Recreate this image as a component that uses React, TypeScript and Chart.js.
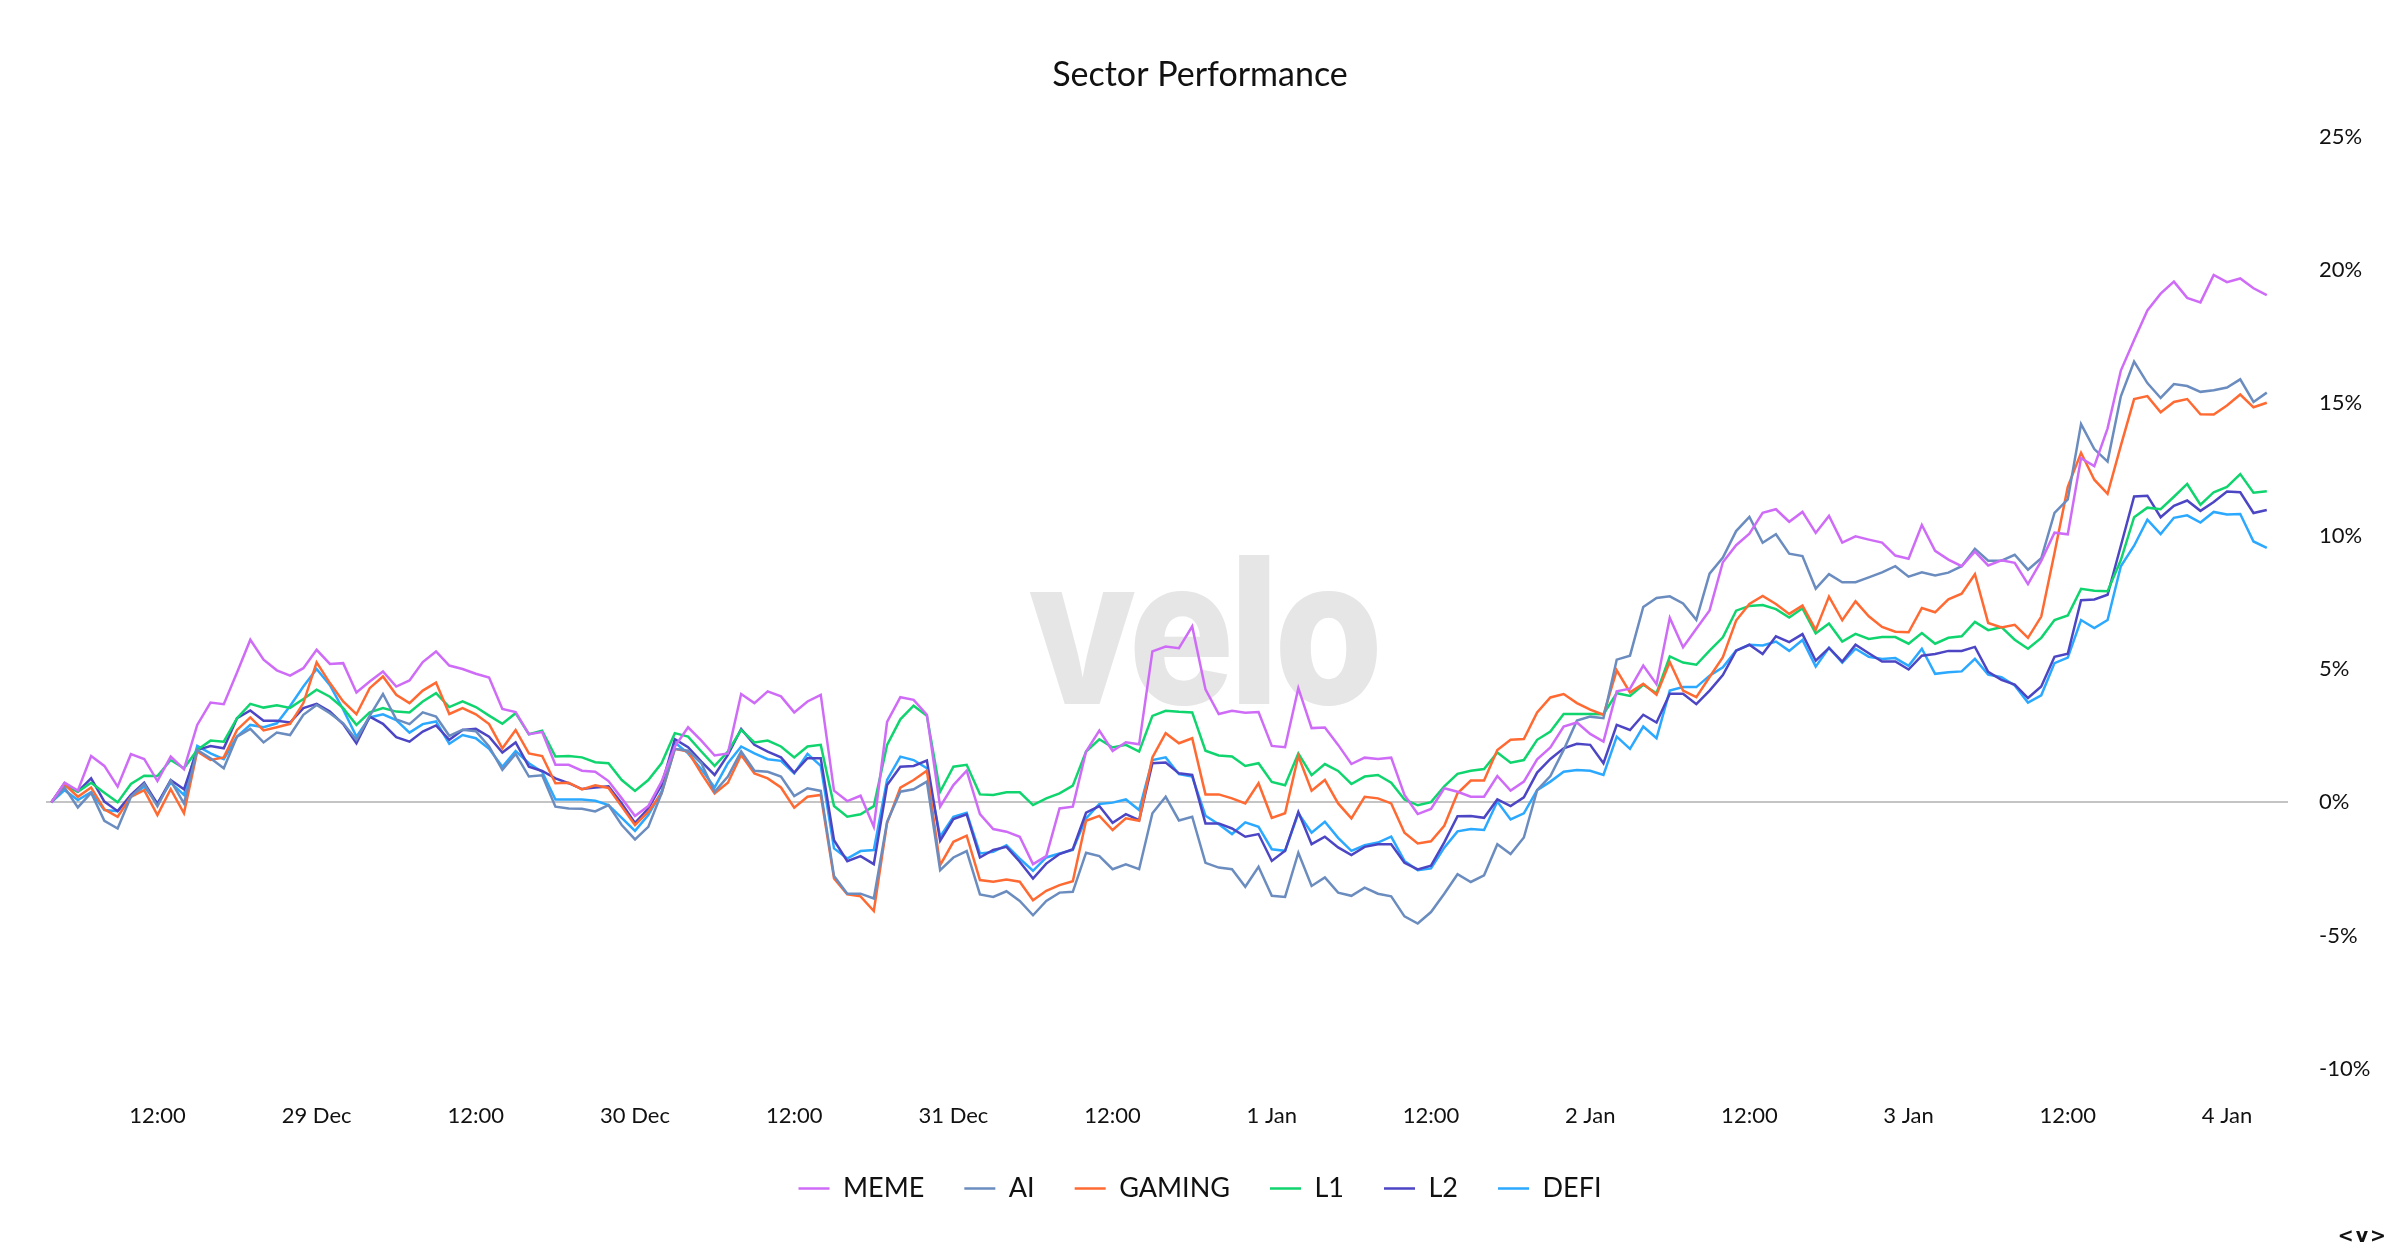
import React, { useEffect, useRef } from "react";
import { Chart, registerables } from "chart.js";

Chart.register(...registerables);

// first point: 28 Dec 04:00 (hourly data, 168 points)
const START = Date.UTC(2024, 11, 28, 4);
const MONTHS = ["Jan", "Feb", "Mar", "Apr", "May", "Jun", "Jul", "Aug", "Sep", "Oct", "Nov", "Dec"];
const hours = Array.from({ length: 168 }, (_, i) => i);
const tickHours = [8, 20, 32, 44, 56, 68, 80, 92, 104, 116, 128, 140, 152, 164];
const yTicks = [-10, -5, 0, 5, 10, 15, 20, 25];

const seriesNames = ["MEME", "AI", "GAMING", "L1", "L2", "DEFI"];
const seriesColors = ["#cf6cf7", "#6b8cbf", "#ff6a33", "#10d46e", "#4c46c4", "#2ba8ff"];

const meme = [
  0, 0.74, 0.44, 1.74, 1.37, 0.59, 1.81, 1.63, 0.8, 1.72, 1.25, 2.91, 3.75, 3.69, 4.88, 6.11, 5.36, 4.96, 4.76, 5.04, 5.73,
  5.2, 5.23, 4.13, 4.54, 4.92, 4.35, 4.58, 5.27, 5.67, 5.14, 5.01, 4.83, 4.69, 3.51, 3.39, 2.56, 2.64, 1.41, 1.41, 1.19, 1.15,
  0.8, 0.15, -0.51, -0.14, 0.78, 2.1, 2.82, 2.32, 1.76, 1.84, 4.07, 3.73, 4.17, 3.98, 3.38, 3.79, 4.04, 0.44, 0.05, 0.25, -0.92,
  3.02, 3.95, 3.85, 3.29, -0.16, 0.65, 1.19, -0.44, -1.0, -1.1, -1.29, -2.32, -2.02, -0.23, -0.16, 1.91, 2.7, 1.93, 2.26, 2.18, 5.67,
  5.85, 5.79, 6.61, 4.25, 3.32, 3.44, 3.37, 3.39, 2.12, 2.07, 4.29, 2.79, 2.81, 2.16, 1.44, 1.68, 1.63, 1.68, 0.28, -0.44, -0.25,
  0.53, 0.4, 0.21, 0.21, 0.99, 0.44, 0.78, 1.62, 2.06, 2.85, 3.0, 2.57, 2.28, 4.17, 4.27, 5.14, 4.44, 6.93, 5.83, 6.52, 7.21,
  9.02, 9.66, 10.09, 10.88, 11.01, 10.54, 10.91, 10.12, 10.76, 9.76, 9.99, 9.87, 9.76, 9.27, 9.15, 10.42, 9.45, 9.12, 8.87, 9.42, 8.9,
  9.09, 9.0, 8.2, 9.07, 10.13, 10.07, 12.93, 12.63, 14.05, 16.22, 17.37, 18.48, 19.11, 19.56, 18.95, 18.78, 19.81, 19.54, 19.68, 19.31, 19.05,
];

const ai = [
  0, 0.56, -0.19, 0.36, -0.69, -0.98, 0.21, 0.69, -0.14, 0.82, -0.04, 1.97, 1.66, 1.28, 2.47, 2.76, 2.25, 2.62, 2.53, 3.29, 3.66,
  3.35, 2.97, 2.35, 3.25, 4.07, 3.12, 2.94, 3.38, 3.22, 2.5, 2.73, 2.67, 2.1, 1.22, 1.82, 0.97, 1.02, -0.16, -0.23, -0.24, -0.34,
  -0.1, -0.85, -1.39, -0.92, 0.34, 2.01, 1.94, 1.47, 0.4, 0.97, 1.91, 1.19, 1.15, 0.97, 0.24, 0.53, 0.43, -2.77, -3.43, -3.43, -3.61,
  -0.73, 0.4, 0.49, 0.78, -2.55, -2.07, -1.83, -3.46, -3.55, -3.34, -3.7, -4.24, -3.7, -3.39, -3.36, -1.89, -2.02, -2.51, -2.33, -2.51, -0.41,
  0.21, -0.68, -0.54, -2.27, -2.45, -2.51, -3.17, -2.42, -3.51, -3.55, -1.89, -3.14, -2.82, -3.39, -3.51, -3.2, -3.43, -3.53, -4.28, -4.55, -4.12,
  -3.43, -2.7, -2.99, -2.74, -1.57, -1.94, -1.32, 0.46, 0.99, 1.97, 3.07, 3.22, 3.16, 5.36, 5.51, 7.34, 7.68, 7.74, 7.47, 6.86, 8.59,
  9.2, 10.19, 10.72, 9.75, 10.07, 9.34, 9.25, 8.03, 8.57, 8.27, 8.27, 8.45, 8.64, 8.87, 8.48, 8.64, 8.52, 8.63, 8.87, 9.52, 9.08,
  9.08, 9.3, 8.74, 9.17, 10.87, 11.38, 14.21, 13.27, 12.8, 15.25, 16.56, 15.75, 15.19, 15.71, 15.64, 15.42, 15.48, 15.58, 15.89, 15.04, 15.39,
];

const gaming = [
  0, 0.68, 0.21, 0.56, -0.26, -0.54, 0.21, 0.46, -0.48, 0.5, -0.41, 1.91, 1.59, 1.69, 2.72, 3.19, 2.7, 2.82, 2.95, 3.73, 5.26,
  4.48, 3.79, 3.31, 4.29, 4.73, 4.04, 3.73, 4.2, 4.5, 3.32, 3.54, 3.31, 2.94, 2.03, 2.72, 1.84, 1.74, 0.72, 0.74, 0.49, 0.64,
  0.54, -0.16, -0.85, -0.35, 0.34, 2.01, 1.91, 1.09, 0.34, 0.74, 1.78, 1.09, 0.9, 0.56, -0.2, 0.21, 0.28, -2.86, -3.45, -3.53, -4.08,
  -0.78, 0.55, 0.84, 1.19, -2.36, -1.48, -1.25, -2.92, -2.98, -2.9, -2.98, -3.68, -3.32, -3.11, -2.96, -0.69, -0.51, -1.04, -0.6, -0.69, 1.69,
  2.6, 2.22, 2.41, 0.3, 0.3, 0.15, -0.04, 0.72, -0.58, -0.41, 1.74, 0.44, 0.84, -0.04, -0.6, 0.21, 0.15, -0.04, -1.14, -1.54, -1.46,
  -0.88, 0.34, 0.82, 0.82, 1.97, 2.35, 2.38, 3.38, 3.94, 4.07, 3.73, 3.48, 3.29, 4.96, 4.13, 4.45, 4.04, 5.27, 4.2, 3.95, 4.71,
  5.45, 6.83, 7.45, 7.75, 7.45, 7.08, 7.39, 6.48, 7.73, 6.84, 7.55, 6.99, 6.59, 6.41, 6.39, 7.3, 7.14, 7.63, 7.84, 8.57, 6.74,
  6.57, 6.67, 6.18, 6.98, 9.37, 11.85, 13.13, 12.12, 11.59, 13.4, 15.15, 15.26, 14.65, 15.04, 15.15, 14.58, 14.57, 14.91, 15.32, 14.84, 15.01,
];

const l1 = [
  0, 0.65, 0.4, 0.74, 0.36, 0, 0.69, 1.0, 0.99, 1.59, 1.28, 1.97, 2.32, 2.28, 3.16, 3.7, 3.56, 3.65, 3.55, 3.88, 4.23,
  3.97, 3.54, 2.91, 3.38, 3.54, 3.41, 3.38, 3.79, 4.1, 3.58, 3.79, 3.58, 3.26, 2.95, 3.35, 2.56, 2.69, 1.72, 1.74, 1.69, 1.51,
  1.47, 0.84, 0.43, 0.84, 1.47, 2.6, 2.47, 1.91, 1.37, 1.91, 2.72, 2.25, 2.32, 2.1, 1.69, 2.1, 2.16, -0.14, -0.54, -0.45, -0.14,
  2.16, 3.12, 3.63, 3.25, 0.4, 1.34, 1.41, 0.3, 0.28, 0.38, 0.38, -0.1, 0.15, 0.34, 0.63, 1.91, 2.37, 2.06, 2.16, 1.91, 3.25,
  3.44, 3.4, 3.38, 1.94, 1.76, 1.72, 1.37, 1.47, 0.77, 0.64, 1.84, 1.02, 1.44, 1.18, 0.69, 0.97, 1.03, 0.74, 0.11, -0.11, 0.01,
  0.6, 1.07, 1.19, 1.25, 1.87, 1.49, 1.59, 2.35, 2.66, 3.32, 3.32, 3.32, 3.31, 4.1, 4.0, 4.42, 4.1, 5.48, 5.25, 5.17, 5.7,
  6.2, 7.2, 7.38, 7.41, 7.26, 6.94, 7.29, 6.35, 6.72, 6.04, 6.33, 6.14, 6.21, 6.21, 5.96, 6.36, 5.96, 6.18, 6.24, 6.78, 6.47,
  6.58, 6.11, 5.77, 6.18, 6.85, 7.02, 8.02, 7.95, 7.93, 9.1, 10.71, 11.07, 11.01, 11.48, 11.96, 11.18, 11.65, 11.85, 12.33, 11.63, 11.69,
];

const l2 = [
  0, 0.72, 0.4, 0.9, 0.03, -0.33, 0.28, 0.74, -0.06, 0.84, 0.49, 1.97, 2.12, 2.03, 3.16, 3.45, 3.07, 3.07, 3.0, 3.54, 3.7,
  3.41, 2.94, 2.22, 3.22, 2.95, 2.45, 2.28, 2.66, 2.89, 2.35, 2.72, 2.76, 2.47, 1.87, 2.25, 1.34, 1.18, 0.9, 0.72, 0.5, 0.56,
  0.6, -0.04, -0.77, -0.23, 0.65, 2.37, 2.07, 1.53, 1.03, 1.78, 2.76, 2.16, 1.91, 1.69, 1.12, 1.66, 1.66, -1.42, -2.21, -2.02, -2.32,
  0.65, 1.34, 1.37, 1.57, -1.44, -0.63, -0.45, -2.07, -1.79, -1.67, -2.23, -2.86, -2.3, -1.94, -1.76, -0.39, -0.14, -0.77, -0.44, -0.67, 1.47,
  1.5, 1.09, 1.03, -0.79, -0.79, -0.98, -1.29, -1.19, -2.2, -1.82, -0.36, -1.57, -1.29, -1.69, -1.98, -1.67, -1.57, -1.57, -2.27, -2.52, -2.38,
  -1.5, -0.52, -0.51, -0.58, 0.11, -0.14, 0.19, 1.12, 1.63, 2.03, 2.2, 2.16, 1.47, 2.91, 2.72, 3.29, 3.0, 4.08, 4.08, 3.69, 4.2,
  4.78, 5.7, 5.92, 5.57, 6.24, 6.02, 6.32, 5.32, 5.8, 5.29, 5.92, 5.6, 5.29, 5.29, 4.99, 5.51, 5.57, 5.69, 5.69, 5.84, 4.9,
  4.6, 4.42, 3.92, 4.35, 5.47, 5.58, 7.59, 7.62, 7.8, 9.64, 11.49, 11.52, 10.71, 11.14, 11.34, 10.95, 11.28, 11.68, 11.65, 10.87, 10.98,
];

const defi = [
  0, 0.46, 0.09, 0.38, -0.29, -0.33, 0.24, 0.59, -0.04, 0.74, 0.28, 2.12, 1.84, 1.62, 2.47, 2.91, 2.82, 2.97, 3.62, 4.35, 5.01,
  4.4, 3.49, 2.47, 3.19, 3.31, 3.09, 2.62, 2.94, 3.04, 2.2, 2.53, 2.41, 2.01, 1.34, 1.93, 1.47, 1.15, 0.11, 0.11, 0.11, 0.06,
  -0.1, -0.58, -1.07, -0.48, 0.4, 2.25, 1.84, 1.24, 0.56, 1.47, 2.1, 1.84, 1.62, 1.56, 1.09, 1.82, 1.37, -1.73, -2.11, -1.83, -1.79,
  0.84, 1.72, 1.59, 1.28, -1.29, -0.54, -0.39, -1.92, -1.86, -1.61, -2.11, -2.57, -2.07, -1.92, -1.79, -0.6, -0.06, -0.01, 0.11, -0.29, 1.59,
  1.69, 1.06, 0.97, -0.5, -0.82, -1.19, -0.75, -0.92, -1.76, -1.82, -0.41, -1.14, -0.73, -1.33, -1.82, -1.61, -1.51, -1.29, -2.2, -2.55, -2.48,
  -1.7, -1.09, -1.0, -1.04, 0.03, -0.64, -0.41, 0.46, 0.78, 1.15, 1.22, 1.19, 1.03, 2.47, 2.01, 2.85, 2.41, 4.2, 4.33, 4.33, 4.76,
  5.07, 5.7, 5.92, 5.89, 6.04, 5.69, 6.1, 5.1, 5.81, 5.25, 5.77, 5.47, 5.39, 5.42, 5.13, 5.77, 4.83, 4.89, 4.92, 5.39, 4.8,
  4.7, 4.39, 3.75, 4.02, 5.23, 5.44, 6.85, 6.55, 6.85, 8.87, 9.64, 10.62, 10.08, 10.69, 10.78, 10.51, 10.91, 10.81, 10.83, 9.8, 9.56,
];

const seriesValues = [meme, ai, gaming, l1, l2, defi];

const FONT = "Lato, 'Noto Sans', sans-serif";

function tickLabel(h: number): string {
  const d = new Date(START + h * 3600000);
  const hh = d.getUTCHours();
  if (hh === 0) return `${d.getUTCDate()} ${MONTHS[d.getUTCMonth()]}`;
  return `${String(hh).padStart(2, "0")}:00`;
}

const watermark = {
  id: "watermark",
  beforeDatasetsDraw(chart: any) {
    const { ctx } = chart;
    ctx.save();
    ctx.fillStyle = "#e6e6e6";
    ctx.font = "800 205px Inter, Lato, sans-serif";
    ctx.textAlign = "center";
    ctx.textBaseline = "alphabetic";
    try { (ctx as any).letterSpacing = "-6px"; } catch (e) {}
    ctx.translate(1203, 704);
    ctx.scale(0.86, 1);
    ctx.fillText("velo", 0, 0);
    ctx.restore();
  },
};

// keep title and legend centred on the full canvas width
const centreBlocks = {
  id: "centreBlocks",
  afterLayout(chart: any) {
    const w = chart.width;
    [chart.titleBlock, chart.legend].forEach((b: any) => {
      if (b) {
        b.left = 0;
        b.right = w;
        b.width = w;
      }
    });
  },
};

export default function App() {
  const ref = useRef<HTMLCanvasElement | null>(null);
  useEffect(() => {
    document.body.style.margin = "0";
    document.body.style.overflow = "hidden";
    if (!ref.current) return;
    const chart = new Chart(ref.current, {
      type: "line",
      data: {
        labels: hours,
        datasets: seriesNames.map((name, k) => ({
          label: name,
          data: seriesValues[k],
          borderColor: seriesColors[k],
          backgroundColor: seriesColors[k],
          borderWidth: 2.5,
          pointRadius: 0,
          tension: 0,
          fill: false,
        })),
      },
      options: {
        responsive: false,
        animation: false,
        events: [],
        layout: { padding: { left: 46, right: 0, top: 0, bottom: 44 } },
        plugins: {
          title: {
            display: true,
            text: "Sector Performance",
            color: "#111111",
            font: { family: FONT, size: 34, weight: "normal" },
            padding: { top: 55, bottom: 41 },
          },
          legend: {
            position: "bottom",
            labels: {
              usePointStyle: true,
              pointStyle: "line",
              pointStyleWidth: 31,
              color: "#111111",
              padding: 40,
              font: { family: FONT, size: 27 },
            },
          },
          tooltip: { enabled: false },
        },
        scales: {
          x: {
            type: "linear",
            min: -0.4,
            max: 168.6,
            grid: { display: false },
            border: { display: false },
            afterBuildTicks: (scale: any) => {
              scale.ticks = tickHours.map((v) => ({ value: v }));
            },
            afterFit: (scale: any) => {
              scale.height -= 20;
            },
            ticks: {
              autoSkip: false,
              maxRotation: 0,
              padding: 26,
              color: "#111111",
              font: { family: FONT, size: 22 },
              callback: (v: any) => tickLabel(Number(v)),
            },
          },
          y: {
            position: "right",
            min: -10,
            max: 25,
            afterBuildTicks: (scale: any) => {
              scale.ticks = yTicks.map((v) => ({ value: v }));
            },
            afterFit: (scale: any) => {
              scale.width = 112;
            },
            grid: {
              drawTicks: false,
              lineWidth: 2,
              color: (c: any) => (c.tick && c.tick.value === 0 ? "#c4c4c4" : "rgba(0,0,0,0)"),
            },
            border: { display: false },
            ticks: {
              padding: 31,
              color: "#111111",
              font: { family: FONT, size: 22 },
              callback: (v: any) => `${v}%`,
            },
          },
        },
      },
      plugins: [watermark, centreBlocks],
    });
    return () => chart.destroy();
  }, []);
  return (
    <div style={{ position: "relative", width: 2400, height: 1256, background: "#ffffff" }}>
      <canvas ref={ref} width={2400} height={1256} style={{ display: "block" }} />
      <div
        style={{
          position: "absolute",
          right: 12,
          bottom: 10,
          fontFamily: "'DejaVu Sans', sans-serif",
          fontWeight: "bold",
          fontSize: 19,
          letterSpacing: 2,
          color: "#111",
        }}
      >
        {"<v>"}
      </div>
    </div>
  );
}
